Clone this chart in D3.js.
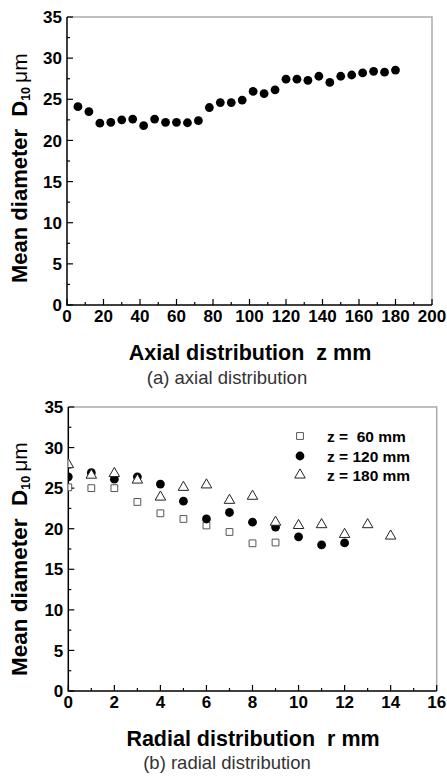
<!DOCTYPE html>
<html>
<head>
<meta charset="utf-8">
<script src="https://cdn.jsdelivr.net/npm/d3@7"></script>
<style>
  body { margin: 0; background: #fff; }
  text { font-family: "Liberation Sans", Arial, sans-serif; }
</style>
</head>
<body>
<svg id="chart" width="447" height="776"></svg>
<script>
// axial data (a)
const axialZ = [6, 12, 18, 24, 30, 36, 42, 48, 54, 60, 66, 72, 78, 84, 90, 96, 102, 108, 114, 120, 126, 132, 138, 144, 150, 156, 162, 168, 174, 180]
const axialD = [24.1, 23.5, 22.1, 22.2, 22.5, 22.6, 21.8, 22.6, 22.2, 22.2, 22.15, 22.4, 24.0, 24.6, 24.6, 24.9, 25.95, 25.7, 26.15, 27.45, 27.45, 27.3, 27.8, 27.05, 27.8, 27.95, 28.2, 28.4, 28.3, 28.55]

// radial data (b)
const r60 = [0, 1, 2, 3, 4, 5, 6, 7, 8, 9]
const d60 = [25.1, 25.0, 25.0, 23.3, 21.9, 21.2, 20.4, 19.6, 18.2, 18.3]
const r120 = [0, 1, 2, 3, 4, 5, 6, 7, 8, 9, 10, 11, 12]
const d120 = [26.4, 26.9, 26.1, 26.4, 25.5, 23.4, 21.2, 22.0, 20.8, 20.2, 19.0, 18.0, 18.25]
const r180 = [0, 1, 2, 3, 4, 5, 6, 7, 8, 9, 10, 11, 12, 13, 14]
const d180 = [27.9, 26.6, 26.8, 26.0, 23.9, 25.1, 25.4, 23.5, 24.0, 20.8, 20.4, 20.5, 19.3, 20.5, 19.1]

const legendLabels = ["z =  60 mm", "z = 120 mm", "z = 180 mm"]
const yTicks = [0, 5, 10, 15, 20, 25, 30, 35]

const svg = d3.select("#chart")

function drawFrame(g, x, y, xMajor, xMinor, xTitle, caption, opts) {
    const [x0, x1] = x.range()
    const [y0, y1] = y.range()

    // gray top and right border
    g.append("path")
        .attr("d", `M${x0},${y1}H${x1}V${y0}`)
        .attr("fill", "none")
        .attr("stroke", "#aaa")
        .attr("stroke-width", 1.5)

    // minor ticks (inward)
    g.selectAll(".ytm").data(d3.range(0, 35.01, 2.5)).join("line")
        .attr("x1", x0).attr("x2", d => d % 5 === 0 ? x0 + 6 : x0 + 3)
        .attr("y1", d => y(d)).attr("y2", d => y(d))
        .attr("stroke", "#000").attr("stroke-width", 1.2)
    g.selectAll(".xtm").data(xMinor).join("line")
        .attr("y1", y0).attr("y2", d => xMajor.includes(d) ? y0 - 6 : y0 - 3)
        .attr("x1", d => x(d)).attr("x2", d => x(d))
        .attr("stroke", "#000").attr("stroke-width", 1.2)

    // axis lines
    g.append("path")
        .attr("d", `M${x0},${y1}V${y0}H${x1}`)
        .attr("fill", "none")
        .attr("stroke", "#000")
        .attr("stroke-width", 1.5)

    g.selectAll(".yl").data(yTicks).join("text")
        .attr("x", x0 - 5).attr("y", d => y(d)).attr("dy", "0.36em")
        .attr("text-anchor", "end")
        .attr("font-size", 17).attr("font-weight", "bold")
        .text(d => d)
    g.selectAll(".xl").data(xMajor).join("text")
        .attr("x", d => x(d)).attr("y", y0 + 17)
        .attr("text-anchor", "middle")
        .attr("font-size", 17).attr("font-weight", "bold")
        .text(d => d)

    g.append("text")
        .attr("x", opts.titleX).attr("y", y0 + opts.titleDy)
        .attr("text-anchor", "middle")
        .attr("font-size", 21.5).attr("font-weight", "bold")
        .attr("xml:space", "preserve")
        .text(xTitle)
    g.append("text")
        .attr("x", opts.capX).attr("y", y0 + opts.capDy)
        .attr("text-anchor", "middle")
        .attr("font-size", 18.5).attr("fill", "#333")
        .text(caption)

    // y title, starts at the bottom and runs upward
    const yt = g.append("text")
        .attr("transform", `translate(27,${opts.yTitleStart}) rotate(-90)`)
        .attr("text-anchor", "start")
        .attr("font-size", opts.yTitleSize).attr("font-weight", "bold")
        .attr("xml:space", "preserve")
    yt.append("tspan").text("Mean diameter  D")
    yt.append("tspan").attr("font-size", 12.5).attr("dy", 2.5).text("10")
    yt.append("tspan").attr("dy", -2.5).attr("dx", 4).attr("font-size", 21).attr("font-weight", "normal").text("μm")
}

// ---- (a) axial ----
const xa = d3.scaleLinear().domain([0, 200]).range([67, 432])
const ya = d3.scaleLinear().domain([0, 35]).range([305, 17])
const ga = svg.append("g")
drawFrame(ga, xa, ya, d3.range(0, 201, 20), d3.range(0, 201, 10),
    "Axial distribution  z mm", "(a) axial distribution",
    { titleX: 250, titleDy: 55, capX: 227, capDy: 79, yTitleStart: 283, yTitleSize: 22 })

ga.selectAll(".pt").data(axialZ).join("circle")
    .attr("cx", d => xa(d))
    .attr("cy", (d, i) => ya(axialD[i]))
    .attr("r", 4.4)
    .attr("fill", "#000")

// ---- (b) radial ----
const xb = d3.scaleLinear().domain([0, 16]).range([68.3, 436.7])
const yb = d3.scaleLinear().domain([0, 35]).range([691, 407])
const gb = svg.append("g")
drawFrame(gb, xb, yb, d3.range(0, 17, 2), d3.range(0, 17, 1),
    "Radial distribution  r mm", "(b) radial distribution",
    { titleX: 253, titleDy: 55, capX: 227, capDy: 78, yTitleStart: 676, yTitleSize: 22.5 })

svg.append("clipPath").attr("id", "clipb")
    .append("rect")
    .attr("x", xb.range()[0]).attr("y", yb.range()[1] - 10)
    .attr("width", xb.range()[1] - xb.range()[0]).attr("height", yb.range()[0] - yb.range()[1] + 10)

const marks = gb.append("g").attr("clip-path", "url(#clipb)")
const sq = d3.symbol().type(d3.symbolSquare).size(46)
const tri = d3.symbol().type(d3.symbolTriangle).size(48)

marks.selectAll(".s60").data(r60).join("path")
    .attr("d", sq)
    .attr("transform", (d, i) => `translate(${xb(d)},${yb(d60[i])})`)
    .attr("fill", "#fff").attr("stroke", "#555").attr("stroke-width", 1)
marks.selectAll(".s120").data(r120).join("circle")
    .attr("cx", d => xb(d)).attr("cy", (d, i) => yb(d120[i]))
    .attr("r", 4.4).attr("fill", "#000")
marks.selectAll(".s180").data(r180).join("path")
    .attr("d", tri)
    .attr("transform", (d, i) => `translate(${xb(d)},${yb(d180[i])})`)
    .attr("fill", "#fff").attr("stroke", "#222").attr("stroke-width", 1)

// legend
const leg = gb.append("g").attr("transform", "translate(300,436)")
const legY = [0, 20, 39]
leg.append("path").attr("d", sq).attr("transform", `translate(0,${legY[0]})`)
    .attr("fill", "#fff").attr("stroke", "#555")
leg.append("circle").attr("cx", 0).attr("cy", legY[1]).attr("r", 4.4).attr("fill", "#000")
leg.append("path").attr("d", tri).attr("transform", `translate(0,${legY[2]})`)
    .attr("fill", "#fff").attr("stroke", "#222")
leg.selectAll(".lt").data(legendLabels).join("text")
    .attr("x", 27).attr("y", (d, i) => legY[i]).attr("dy", "0.36em")
    .attr("font-size", 15.5).attr("font-weight", "bold")
    .attr("xml:space", "preserve")
    .text(d => d)
</script>
</body>
</html>
